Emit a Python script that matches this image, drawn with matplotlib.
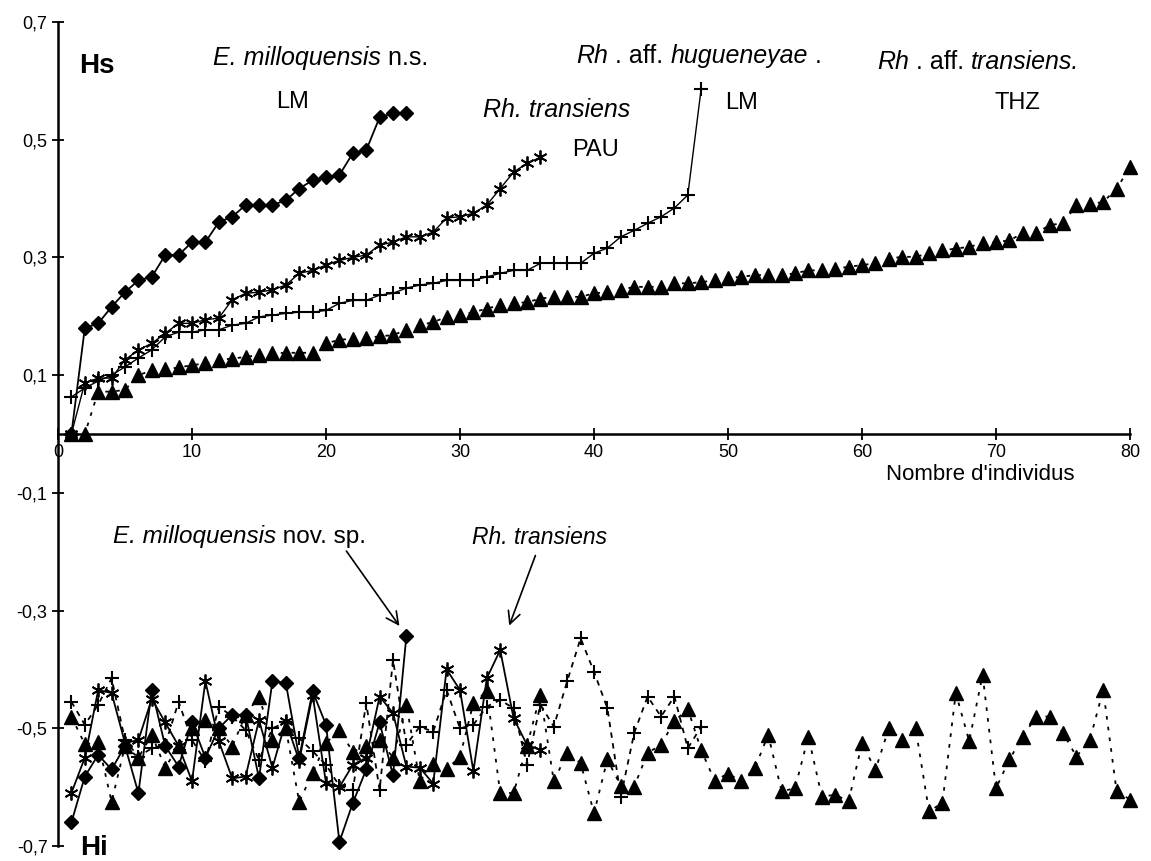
import numpy as np
import matplotlib
matplotlib.use('Agg')
from matplotlib import pyplot as plt

plt.rcParams['font.family'] = ['Liberation Sans', 'DejaVu Sans']

# Hs (upper curves)
hs_diamond = [0.0, 0.18, 0.188, 0.216, 0.241, 0.261, 0.267, 0.304, 0.304, 0.326,
              0.326, 0.36, 0.369, 0.389, 0.389, 0.389, 0.397, 0.417, 0.431, 0.436,
              0.44, 0.477, 0.482, 0.538, 0.545, 0.545]
hs_star = [0.0, 0.087, 0.095, 0.095, 0.126, 0.143, 0.154, 0.171, 0.188, 0.188,
           0.194, 0.197, 0.228, 0.239, 0.241, 0.245, 0.253, 0.273, 0.278, 0.287,
           0.295, 0.30, 0.304, 0.321, 0.326, 0.335, 0.335, 0.343, 0.367, 0.369,
           0.375, 0.389, 0.417, 0.445, 0.46, 0.47]
hs_plus = [0.063, 0.078, 0.09, 0.10, 0.114, 0.129, 0.143, 0.165, 0.173, 0.173,
           0.177, 0.177, 0.185, 0.188, 0.199, 0.202, 0.205, 0.207, 0.207, 0.21,
           0.222, 0.227, 0.227, 0.236, 0.239, 0.248, 0.253, 0.256, 0.261, 0.261,
           0.261, 0.267, 0.273, 0.278, 0.278, 0.29, 0.29, 0.29, 0.29, 0.307,
           0.316, 0.335, 0.346, 0.358, 0.369, 0.384, 0.406, 0.587]
hs_tri = [0.0, 0.0, 0.072, 0.072, 0.075, 0.10, 0.108, 0.11, 0.113, 0.117,
          0.12, 0.126, 0.128, 0.131, 0.134, 0.137, 0.138, 0.138, 0.138, 0.154,
          0.16, 0.162, 0.163, 0.166, 0.168, 0.177, 0.185, 0.19, 0.199, 0.202,
          0.207, 0.213, 0.219, 0.222, 0.224, 0.23, 0.233, 0.233, 0.233, 0.239,
          0.241, 0.245, 0.25, 0.25, 0.25, 0.256, 0.256, 0.258, 0.261, 0.265,
          0.267, 0.27, 0.27, 0.27, 0.273, 0.278, 0.278, 0.281, 0.284, 0.287,
          0.29, 0.298, 0.301, 0.301, 0.307, 0.312, 0.315, 0.318, 0.324, 0.326,
          0.329, 0.341, 0.341, 0.355, 0.358, 0.389, 0.391, 0.394, 0.417, 0.453]

# Hi (lower curves)
hi_diamond = [-0.66, -0.582, -0.545, -0.57, -0.53, -0.61, -0.435, -0.53, -0.565, -0.49,
              -0.55, -0.5, -0.477, -0.477, -0.585, -0.42, -0.423, -0.55, -0.437, -0.494,
              -0.693, -0.627, -0.57, -0.49, -0.58, -0.343]
hi_star = [-0.61, -0.55, -0.435, -0.44, -0.525, -0.52, -0.45, -0.49, -0.53, -0.59,
           -0.42, -0.522, -0.585, -0.582, -0.486, -0.567, -0.488, -0.555, -0.443, -0.593,
           -0.6, -0.562, -0.55, -0.446, -0.474, -0.565, -0.567, -0.594, -0.4, -0.435,
           -0.573, -0.415, -0.367, -0.483, -0.528, -0.537]
hi_plus = [-0.455, -0.494, -0.46, -0.415, -0.52, -0.548, -0.534, -0.528, -0.455, -0.52,
           -0.556, -0.463, -0.48, -0.503, -0.554, -0.5, -0.49, -0.517, -0.539, -0.562,
           -0.598, -0.605, -0.457, -0.605, -0.384, -0.528, -0.497, -0.506, -0.435, -0.5,
           -0.494, -0.463, -0.452, -0.466, -0.562, -0.46, -0.497, -0.42, -0.347, -0.404,
           -0.466, -0.616, -0.508, -0.446, -0.48, -0.446, -0.534, -0.497]
hi_tri = [-0.48, -0.527, -0.524, -0.625, -0.53, -0.55, -0.511, -0.567, -0.53, -0.5,
          -0.486, -0.5, -0.531, -0.477, -0.446, -0.52, -0.5, -0.625, -0.576, -0.525,
          -0.503, -0.54, -0.53, -0.52, -0.55, -0.46, -0.59, -0.56, -0.57, -0.548,
          -0.457, -0.437, -0.61, -0.61, -0.53, -0.443, -0.59, -0.542, -0.559, -0.644,
          -0.553, -0.598, -0.599, -0.542, -0.528, -0.488, -0.467, -0.537, -0.589, -0.577,
          -0.59, -0.568, -0.511, -0.607, -0.602, -0.514, -0.616, -0.613, -0.624, -0.525,
          -0.571, -0.5, -0.52, -0.5, -0.641, -0.627, -0.44, -0.522, -0.409, -0.602,
          -0.553, -0.514, -0.48, -0.48, -0.508, -0.548, -0.52, -0.435, -0.607, -0.621]

x_ticks = [0, 10, 20, 30, 40, 50, 60, 70, 80]
y_ticks = [-0.7, -0.5, -0.3, -0.1, 0.1, 0.3, 0.5, 0.7]
y_tick_labels = ['-0,7', '-0,5', '-0,3', '-0,1', '0,1', '0,3', '0,5', '0,7']


def xs(values):
    return np.arange(1, len(values) + 1)


fig = plt.figure(figsize=(11.51, 8.61), dpi=100)
ax = fig.add_axes([58 / 1151, 15 / 861, 1072 / 1151, 824 / 861])
ax.set_xlim(0, 80)
ax.set_ylim(-0.7, 0.7)

star = (6, 2, 0)
lw = 1.3

# upper curves
ax.plot(xs(hs_tri), hs_tri, color='black', lw=lw, ls=(0, (2, 4)),
        marker='^', ms=9.5, clip_on=False)
ax.plot(xs(hs_plus), hs_plus, color='black', lw=1.0,
        marker='+', ms=10, mew=1.5, clip_on=False)
ax.plot(xs(hs_star), hs_star, color='black', lw=1.0,
        marker=star, ms=10, mew=1.3, clip_on=False)
ax.plot(xs(hs_diamond), hs_diamond, color='black', lw=lw,
        marker='D', ms=7.5, clip_on=False)

# lower curves
ax.plot(xs(hi_tri), hi_tri, color='black', lw=lw, ls=(0, (2, 4)),
        marker='^', ms=9.5, clip_on=False)
ax.plot(xs(hi_plus), hi_plus, color='black', lw=lw, ls=(0, (3, 3)),
        marker='+', ms=10, mew=1.5, clip_on=False)
ax.plot(xs(hi_star), hi_star, color='black', lw=lw,
        marker=star, ms=10, mew=1.3, clip_on=False)
ax.plot(xs(hi_diamond), hi_diamond, color='black', lw=lw,
        marker='D', ms=7.5, clip_on=False)

ax.spines['top'].set_visible(False)
ax.spines['right'].set_visible(False)
ax.spines['bottom'].set_position(('data', 0))
ax.spines['left'].set_linewidth(1.8)
ax.spines['bottom'].set_linewidth(1.8)

ax.set_xticks(x_ticks)
ax.set_xticklabels([str(t) for t in x_ticks],
                   family=['Liberation Sans Narrow', 'Liberation Sans'])
ax.set_yticks(y_ticks)
ax.set_yticklabels(y_tick_labels)
ax.tick_params(direction='inout', length=9, width=1.3, labelsize=13)
ax.tick_params(axis='y', pad=3)
ax.tick_params(axis='x', pad=3)


def write_parts(x, y, parts, size=18):
    t = ax.text(x, y, parts[0][0], style=parts[0][1], fontsize=size,
                va='center', ha='left')
    for s, st in parts[1:]:
        t = ax.annotate(s, xy=(1, 0.5), xycoords=t, style=st, fontsize=size,
                        va='center', ha='left')
    return t


write_parts(11.6, 0.638, [('E. milloquensis', 'italic'), (' n.s.', 'normal')])
ax.text(17.5, 0.564, 'LM', fontsize=17, ha='center', va='center')
ax.text(37.2, 0.55, 'Rh. transiens', fontsize=18, style='italic',
        ha='center', va='center')
ax.text(40.1, 0.482, 'PAU', fontsize=17, ha='center', va='center')
write_parts(38.7, 0.643, [('Rh', 'italic'), (' . aff. ', 'normal'),
                          ('hugueneyae', 'italic'), (' .', 'normal')])
ax.text(51.0, 0.562, 'LM', fontsize=17, ha='center', va='center')
write_parts(61.1, 0.632, [('Rh', 'italic'), (' . aff. ', 'normal'),
                          ('transiens.', 'italic')])
ax.text(71.6, 0.562, 'THZ', fontsize=17, ha='center', va='center')

ax.text(2.9, 0.626, 'Hs', fontsize=20, fontweight='bold', ha='center', va='center')
ax.text(2.7, -0.703, 'Hi', fontsize=20, fontweight='bold', ha='center', va='center')
ax.text(68.8, -0.068, "Nombre d'individus", fontsize=16, ha='center', va='center')

write_parts(4.1, -0.175, [('E. milloquensis', 'italic'), (' nov. sp.', 'normal')],
            size=17.5)
ax.text(30.9, -0.175, 'Rh. transiens', fontsize=16.5, style='italic',
        ha='left', va='center')

ax.annotate('', xy=(25.6, -0.33), xytext=(21.4, -0.195),
            arrowprops=dict(arrowstyle='->', lw=1.2, color='black', mutation_scale=22))
ax.annotate('', xy=(33.6, -0.33), xytext=(35.7, -0.202),
            arrowprops=dict(arrowstyle='->', lw=1.2, color='black', mutation_scale=22))

fig.savefig('out.png', dpi=100, facecolor='white')
